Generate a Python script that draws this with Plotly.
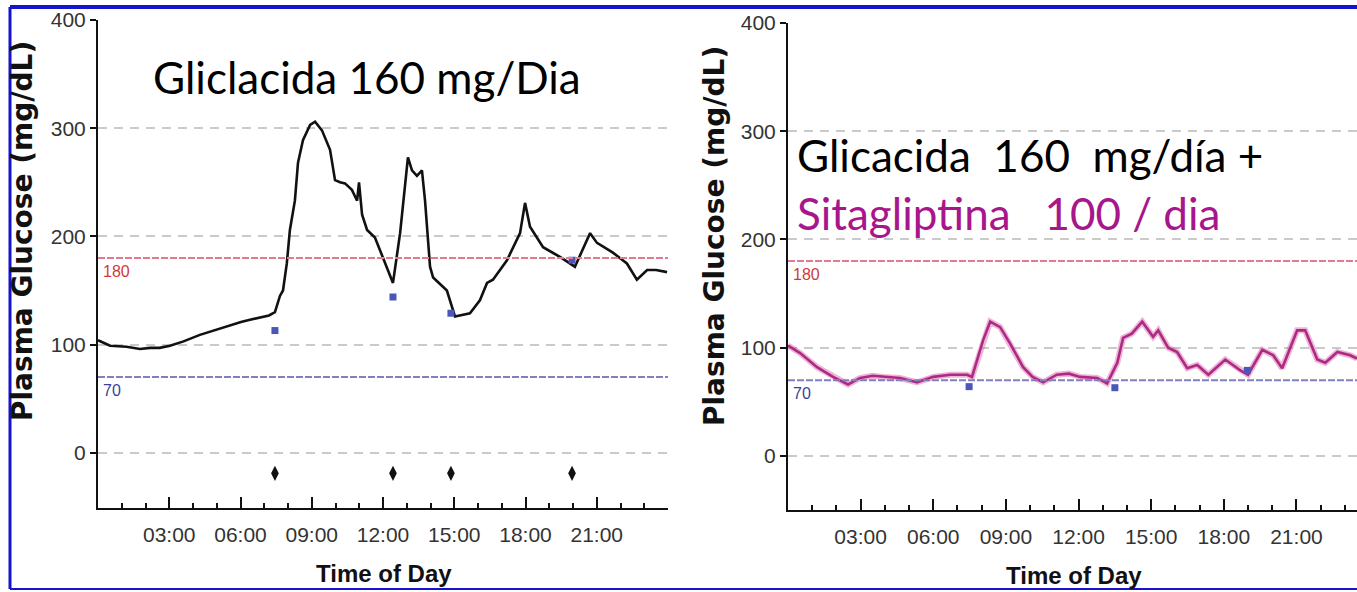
import plotly.graph_objects as go

# ---- Data -----------------------------------------------------------------
# Left panel: gliclazide alone (hours of day, plasma glucose mg/dL)
left_hours = [0.0, 0.51, 1.2, 1.77, 2.19, 2.6, 3.03, 3.6, 4.29, 5.0, 5.5, 6.02, 6.4,
              6.82, 7.2, 7.45, 7.66, 7.79, 7.95, 8.08, 8.29, 8.42, 8.63, 8.93, 9.14,
              9.43, 9.77, 9.98, 10.19, 10.4, 10.69, 10.91, 10.99, 11.12, 11.33,
              11.66, 11.87, 12.21, 12.42, 12.72, 13.05, 13.22, 13.43, 13.64, 13.77,
              13.98, 14.11, 14.4, 14.69, 15.03, 15.3, 15.66, 16.08, 16.38, 16.63,
              17.22, 17.77, 17.98, 18.19, 18.74, 19.45, 20.08, 20.72, 21.01, 21.68,
              22.27, 22.69, 23.12, 23.5, 23.96]
left_glucose = [104, 99, 98, 96, 97, 97, 99, 103, 109, 114, 118, 121, 123,
                125, 127, 130, 145, 150, 175, 206, 233, 268, 289, 303, 306,
                298, 280, 252, 250, 249, 243, 233, 250, 220, 206,
                199, 187, 169, 157, 203, 273, 261, 256, 261, 233,
                172, 162, 156, 150, 126, 127, 129, 141, 157, 160,
                178, 203, 231, 209, 190, 181, 172, 203, 194, 185,
                175, 160, 169, 169, 167]

left_meal_hours = [7.45, 12.42, 14.86, 19.96]
left_meal_glucose = [113, 144, 129, 178]
left_dose_hours = [7.45, 12.42, 14.86, 19.96]
left_dose_level = [-19, -19, -19, -19]

# Right panel: gliclazide + sitagliptin
right_hours = [0.0, 0.5, 1.2, 1.86, 2.48, 2.98, 3.5, 3.93, 4.63, 5.33, 6.0, 6.7, 7.4,
               7.6, 8.06, 8.35, 8.76, 9.17, 9.71, 10.1, 10.54, 11.1, 11.6, 12.07,
               12.77, 13.18, 13.6, 13.84, 14.2, 14.63, 15.08, 15.29, 15.7, 16.07,
               16.49, 16.9, 17.36, 18.06, 18.68, 19.0, 19.59, 20.04, 20.41, 21.03,
               21.36, 21.86, 22.19, 22.69, 23.22, 23.5]
right_glucose = [102, 95, 82, 73, 66, 72, 74, 73, 72, 68, 73, 75, 75,
                 73, 107, 124, 119, 104, 82, 73, 68, 75, 76, 73,
                 72, 67, 86, 109, 113, 124, 110, 116, 100, 96,
                 81, 84, 75, 89, 79, 75, 98, 93, 81, 116,
                 116, 89, 86, 96, 93, 90]

right_meal_hours = [7.48, 13.5, 18.97]
right_meal_glucose = [64, 63, 79]

x_tick_vals = [3, 6, 9, 12, 15, 18, 21]
x_tick_labels = ["03:00", "06:00", "09:00", "12:00", "15:00", "18:00", "21:00"]
y_tick_vals = [0, 100, 200, 300, 400]
target_high = 180
target_low = 70

# ---- Layout helpers ---------------------------------------------------------
W, H = 1357, 592


def px(x):
    return x / W


def py(y):
    return 1 - y / H


SANS = "Liberation Sans, Arial, sans-serif"
SLIDE = "Lato, Carlito, Calibri, sans-serif"

fig = go.Figure()

# Left panel traces
fig.add_trace(go.Scatter(x=left_hours, y=left_glucose, mode="lines",
                         line=dict(color="#111111", width=2.6),
                         xaxis="x", yaxis="y", hoverinfo="skip"))
fig.add_trace(go.Scatter(x=left_meal_hours, y=left_meal_glucose, mode="markers",
                         marker=dict(symbol="square", size=7, color="#4a57b8"),
                         xaxis="x", yaxis="y"))
fig.add_trace(go.Scatter(x=left_dose_hours, y=left_dose_level, mode="markers",
                         marker=dict(symbol="diamond-tall", size=11, color="#111111"),
                         xaxis="x", yaxis="y"))

# Right panel traces (soft halo under the magenta trace)
fig.add_trace(go.Scatter(x=right_hours, y=right_glucose, mode="lines",
                         line=dict(color="rgba(214,90,168,0.45)", width=6),
                         xaxis="x2", yaxis="y2", hoverinfo="skip"))
fig.add_trace(go.Scatter(x=right_hours, y=right_glucose, mode="lines",
                         line=dict(color="#ad2a82", width=2.6),
                         xaxis="x2", yaxis="y2"))
fig.add_trace(go.Scatter(x=right_meal_hours, y=right_meal_glucose, mode="markers",
                         marker=dict(symbol="square", size=7, color="#4a57b8"),
                         xaxis="x2", yaxis="y2"))

axis_common_x = dict(
    tickmode="array", tickvals=x_tick_vals, ticktext=x_tick_labels,
    ticks="inside", ticklen=11, tickwidth=2, tickcolor="#111111",
    minor=dict(tickmode="linear", tick0=0, dtick=1, ticks="inside",
               ticklen=5, tickwidth=1.5, tickcolor="#111111", showgrid=False),
    showline=True, linecolor="#111111", linewidth=2,
    showgrid=False, zeroline=False, automargin=False,
    ticklabelstandoff=7,
    tickfont=dict(family=SANS, size=21, color="#333333"),
)
axis_common_y = dict(
    tickmode="array", tickvals=y_tick_vals,
    ticks="outside", ticklen=6, tickwidth=2, tickcolor="#111111",
    showline=True, linecolor="#111111", linewidth=2,
    showgrid=True, gridcolor="#cacaca", gridwidth=2, griddash="9px,7px",
    zeroline=False, automargin=False,
    tickfont=dict(family=SANS, size=21, color="#333333"),
)

fig.update_layout(
    width=W, height=H,
    margin=dict(l=0, r=0, t=0, b=0, pad=0),
    paper_bgcolor="white", plot_bgcolor="white",
    showlegend=False,
    xaxis=dict(domain=[px(98), px(668)], range=[0, 24], anchor="y", **axis_common_x),
    yaxis=dict(domain=[py(508), py(20)], range=[-51, 400], anchor="x", **axis_common_y),
    xaxis2=dict(domain=[px(788), 1.0], range=[0, 23.5], anchor="y2", **axis_common_x),
    yaxis2=dict(domain=[py(510), py(23)], range=[-50, 400], anchor="x2", **axis_common_y),
)

# Target-range reference lines with their labels
for xa, ya in (("x", "y"), ("x2", "y2")):
    fig.add_shape(type="line", xref=f"{xa} domain", yref=ya, x0=0, x1=1,
                  y0=target_high, y1=target_high,
                  line=dict(color="#e27a92", width=2, dash="7px,2px"))
    fig.add_shape(type="line", xref=f"{xa} domain", yref=ya, x0=0, x1=1,
                  y0=target_low, y1=target_low,
                  line=dict(color="#8080bd", width=2, dash="7px,2px"))
    fig.add_annotation(xref=f"{xa} domain", yref=ya, x=0.006, y=target_high,
                       yshift=-13, xanchor="left", yanchor="middle", showarrow=False,
                       text=str(target_high),
                       font=dict(family=SANS, size=16, color="#d03a3a"))
    fig.add_annotation(xref=f"{xa} domain", yref=ya, x=0.006, y=target_low,
                       yshift=-13, xanchor="left", yanchor="middle", showarrow=False,
                       text=str(target_low),
                       font=dict(family=SANS, size=16, color="#3c3f9a"))

# Axis titles
for xc, yc in ((23, 231), (714, 236)):
    fig.add_annotation(xref="paper", yref="paper", x=px(xc), y=py(yc),
                       text="<b>Plasma Glucose (mg/dL)</b>", textangle=-90,
                       showarrow=False, xanchor="center", yanchor="middle",
                       font=dict(family="DejaVu Sans, sans-serif", size=28, color="#111111"))
for xc, yc in ((384, 573), (1074, 575)):
    fig.add_annotation(xref="paper", yref="paper", x=px(xc), y=py(yc),
                       text="<b>Time of Day</b>", showarrow=False,
                       xanchor="center", yanchor="middle",
                       font=dict(family=SANS, size=24, color="#111111"))

# Treatment captions
fig.add_annotation(xref="paper", yref="paper", x=px(151), y=py(77),
                   text="Gliclacida 160 mg/Dia", showarrow=False,
                   xanchor="left", yanchor="middle",
                   font=dict(family=SLIDE, size=44, color="#000000"))
fig.add_annotation(xref="paper", yref="paper", x=px(795), y=py(155),
                   text="Glicacida\u00a0 160\u00a0 mg/día +", showarrow=False,
                   xanchor="left", yanchor="middle",
                   font=dict(family=SLIDE, size=44, color="#000000"))
fig.add_annotation(xref="paper", yref="paper", x=px(795), y=py(213),
                   text="Sitagliptina\u00a0\u00a0 100 / dia", showarrow=False,
                   xanchor="left", yanchor="middle",
                   font=dict(family=SLIDE, size=44, color="#a8168c"))

# Slide frame
frame = "#1414cc"
fig.add_shape(type="line", xref="paper", yref="paper", x0=px(10), x1=1.02,
              y0=py(7), y1=py(7), line=dict(color=frame, width=4))
fig.add_shape(type="line", xref="paper", yref="paper", x0=px(10), x1=px(10),
              y0=py(7), y1=py(589), line=dict(color=frame, width=3))
fig.add_shape(type="line", xref="paper", yref="paper", x0=px(10), x1=1.02,
              y0=py(589), y1=py(589), line=dict(color=frame, width=2))

fig.write_html("out.html")
